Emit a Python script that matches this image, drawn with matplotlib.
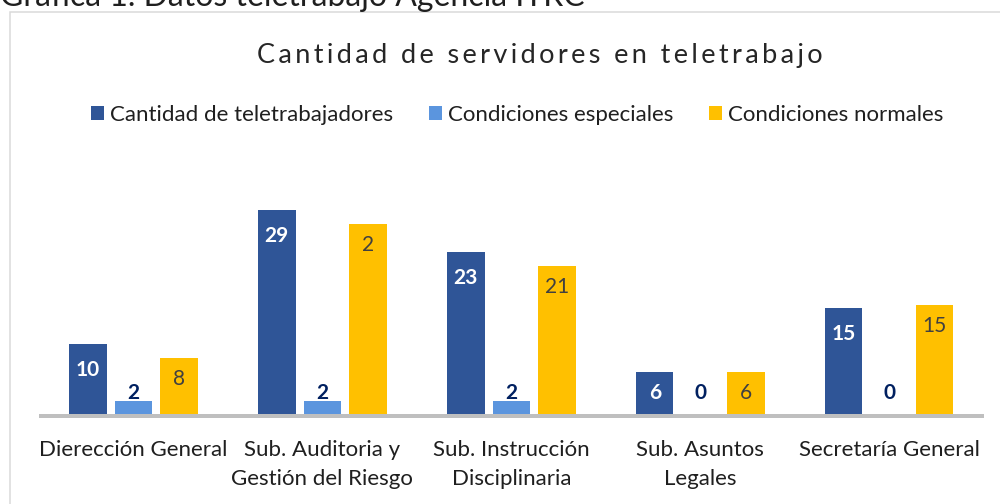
import matplotlib
matplotlib.use('Agg')
import matplotlib.pyplot as plt
import numpy as np
from matplotlib.patches import Rectangle

# ---- data ----
categories = ["Dierección General", "Sub. Auditoria y\nGestión del Riesgo",
              "Sub. Instrucción\nDisciplinaria", "Sub. Asuntos\nLegales",
              "Secretaría General"]
series_names = ["Cantidad de teletrabajadores", "Condiciones especiales",
                "Condiciones normales"]
teletrabajadores = [10, 29, 23, 6, 15]
especiales = [1.8, 1.8, 1.8, 0, 0]
normales = [8, 27, 21, 6, 15.5]
labels_tele = ["10", "29", "23", "6", "15"]
labels_esp = ["2", "2", "2", "0", "0"]
labels_norm = ["8", "2", "21", "6", "15"]
title = "Cantidad de servidores en teletrabajo"
header = "Gráfica 1. Datos teletrabajo Agencia ITRC"

# ---- style ----
FONT = ['Lato', 'DejaVu Sans']
plt.rcParams['font.family'] = FONT
C_DARK = '#2F5597'
C_LIGHT = '#5B95DE'
C_YEL = '#FFC000'

W, H = 1000, 504
fig = plt.figure(figsize=(W / 100, H / 100), dpi=100)
fig.patch.set_facecolor('white')

ppu = 7.05          # pixels per data unit
base_px = 414       # baseline (from top)
ax = fig.add_axes([38.8 / W, (H - base_px - 4) / H, 945 / W, (35 * ppu + 4) / H])
ax.set_xlim(-0.5, 4.5)
ax.set_ylim(-4 / ppu, 35)
for s in ax.spines.values():
    s.set_visible(False)
ax.set_yticks([])
ax.patch.set_alpha(0)

x = np.arange(len(categories))
off = 45.5 / 189
bw = 37.4 / 189
ax.bar(x - off, teletrabajadores, bw, color=C_DARK, label=series_names[0], zorder=2)
ax.bar(x, especiales, bw, color=C_LIGHT, label=series_names[1], zorder=2)
ax.bar(x + off, normales, bw, color=C_YEL, label=series_names[2], zorder=2)
ax.axhline(-2 / ppu, color='#BFBFBF', lw=4 * 0.72, zorder=1)

def lab(xi, v, txt, dy_px, color, weight):
    ax.annotate(txt, xy=(xi, v), xytext=(0, dy_px * 0.72), textcoords='offset points',
                ha='center', va='center', color=color, fontsize=15, fontweight=weight,
                zorder=3)

for i in range(len(categories)):
    h = teletrabajadores[i] * ppu
    lab(x[i] - off, teletrabajadores[i], labels_tele[i], -min(26, h / 2), 'white', 'bold')
    h = especiales[i] * ppu
    lab(x[i], especiales[i], labels_esp[i], max(8.4, 21 - h), '#002060', 'bold')
    h = normales[i] * ppu
    lab(x[i] + off, normales[i], labels_norm[i], -min(21, h / 2), '#404040', 'normal')

ax.set_xticks(x)
ax.set_xticklabels(categories, fontsize=16, color='#1F1F1F', linespacing=1.6)
ax.tick_params(axis='x', length=0, pad=15.5)

# legend
leg = fig.legend(loc='center', bbox_to_anchor=(517 / W, 1 - 115 / H), ncol=3,
                 frameon=False, fontsize=16, handlelength=0.6, handleheight=0.6,
                 handletextpad=0.27, columnspacing=1.6)
for t in leg.get_texts():
    t.set_color('#1F1F1F')

# title with letter spacing (thin spaces)
spaced = '\u2009'.join(title)
fig.text(540 / W, 1 - 55 / H, spaced, ha='center', va='center', fontsize=19.5,
         color='#262626', family=FONT)

# header caption (partly cut at top)
fig.text(0, 1 - 6 / H, header, ha='left', va='baseline', fontsize=23,
         color='#1F1F1F', family=FONT)

# chart frame
fig.add_artist(Rectangle((9.5 / W, -0.1), 1.2, 1.1 - 12.5 / H, transform=fig.transFigure,
                         fill=False, edgecolor='#D9D9D9', lw=1.5 * 0.72))

fig.savefig('out.png', dpi=100, facecolor='white')
